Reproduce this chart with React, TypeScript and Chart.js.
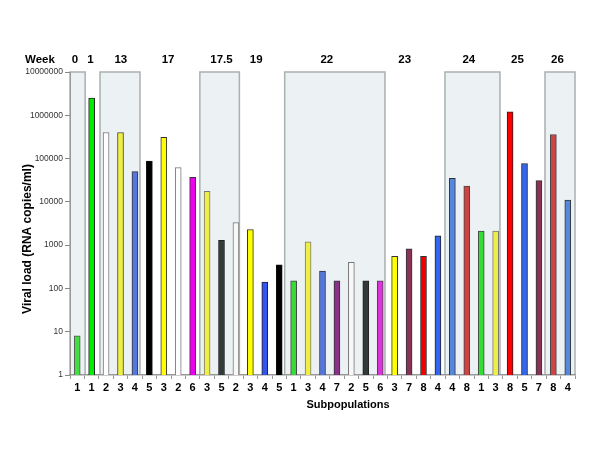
import React, { useEffect, useRef } from "react";
import { Chart, registerables } from "chart.js";

Chart.register(...registerables);

const subpopulations = ["1","1","2","3","4","5","3","2","6","3","5","2","3","4","5","1","3","4","7","2","5","6","3","7","8","4","4","8","1","3","8","5","7","8","4"];
const viralLoad = [8, 2500000, 400000, 400000, 50000, 87000, 310000, 62000, 37000, 17500, 1300, 3300, 2300, 140, 350, 150, 1200, 250, 150, 400, 150, 150, 550, 820, 550, 1650, 35000, 23000, 2100, 2100, 1200000, 77000, 31000, 360000, 11000];
const barColors = ["#44dd44","#00ee00","#ffffff","#eeee44","#5577dd","#000000","#ffff00","#ffffff","#ee00ee","#eeee44","#333a3a","#f8f8f8","#ffff00","#3355ee","#000000","#33dd33","#eeee44","#5577dd","#883388","#f8f8f8","#333838","#dd33dd","#ffff00","#883355","#ee0000","#3366ee","#5588dd","#cc4444","#33dd33","#eeee44","#ff0000","#3366ee","#883355","#cc4444","#5588dd"];
const borderColors = ["#555","#222","#777","#444","#333","#111","#333","#777","#333","#777","#222","#777","#333","#222","#111","#444","#777","#333","#333","#777","#222","#444","#333","#333","#333","#222","#333","#444","#444","#777","#222","#222","#333","#444","#333"];

const weekLabels = ["Week", "0", "1", "13", "17", "17.5", "19", "22", "23", "24", "25", "26"];
const weekLabelPos = [-2.58, -0.15, 0.92, 3.02, 6.3, 10.0, 12.4, 17.3, 22.7, 27.14, 30.51, 33.28];
// shaded week groups (category index units)
const shadeStart = [-0.5, 1.58, 8.5, 14.38, 25.49, 32.42];
const shadeEnd = [0.55, 4.35, 11.24, 21.33, 29.3, 34.5];

const yTicks = [1, 10, 100, 1000, 10000, 100000, 1000000, 10000000];

const FONT = "'Liberation Sans', Arial, sans-serif";

export default function App() {
  const ref = useRef<HTMLCanvasElement | null>(null);
  useEffect(() => {
    if (!ref.current) return;
    const idxToPx = (chart: any, v: number) => {
      const xs = chart.scales.x;
      const p0 = xs.getPixelForValue(0);
      const p1 = xs.getPixelForValue(1);
      return p0 + v * (p1 - p0);
    };
    const decor = {
      id: "decor",
      beforeDraw(chart: any) {
        const ctx = chart.ctx;
        const { top, bottom } = chart.chartArea;
        ctx.save();
        for (let i = 0; i < shadeStart.length; i++) {
          const l = idxToPx(chart, shadeStart[i]);
          const r = idxToPx(chart, shadeEnd[i]);
          ctx.fillStyle = "#ecf2f4";
          ctx.fillRect(l, top, r - l, bottom - top);
          ctx.strokeStyle = "#aab0b0";
          ctx.lineWidth = 1.5;
          ctx.beginPath();
          ctx.moveTo(l, bottom);
          ctx.lineTo(l, top);
          ctx.lineTo(r, top);
          ctx.lineTo(r, bottom);
          ctx.stroke();
        }
        ctx.restore();
      },
      afterDraw(chart: any) {
        const ctx = chart.ctx;
        ctx.save();
        ctx.fillStyle = "#000";
        ctx.textAlign = "center";
        ctx.textBaseline = "middle";
        ctx.font = `bold 11.5px ${FONT}`;
        for (let i = 0; i < weekLabels.length; i++) {
          ctx.fillText(weekLabels[i], idxToPx(chart, weekLabelPos[i]), 60);
        }
        ctx.font = `bold 11px ${FONT}`;
        ctx.fillText("Subpopulations", 348, 405);
        ctx.translate(28, 239);
        ctx.rotate(-Math.PI / 2);
        ctx.font = `bold 12px ${FONT}`;
        ctx.fillText("Viral load (RNA copies/ml)", 0, 0);
        ctx.restore();
      },
    };
    const chart = new Chart(ref.current, {
      type: "bar",
      data: {
        labels: subpopulations,
        datasets: [
          {
            data: viralLoad,
            backgroundColor: barColors,
            borderColor: borderColors,
            borderWidth: 1,
            barThickness: 6,
          },
        ],
      },
      options: {
        responsive: false,
        animation: false,
        layout: { padding: { top: 72, right: 25, left: 0, bottom: 0 } },
        plugins: { legend: { display: false }, tooltip: { enabled: false } },
        scales: {
          x: {
            type: "category",
            afterFit: (s: any) => { s.height = 75; },
            grid: { offset: true, drawOnChartArea: false, drawTicks: true, tickLength: 4, color: "#999" },
            border: { color: "#999", width: 1.5 },
            ticks: { color: "#000", font: { family: FONT, size: 11, weight: "bold" }, padding: 2, autoSkip: false, maxRotation: 0 },
          },
          y: {
            type: "logarithmic",
            min: 1,
            max: 10000000,
            afterFit: (s: any) => { s.width = 70; },
            afterBuildTicks: (s: any) => { s.ticks = yTicks.map((v) => ({ value: v })); },
            grid: { drawOnChartArea: false, drawTicks: true, tickLength: 5, color: "#888" },
            border: { color: "#999", width: 1 },
            ticks: {
              color: "#333",
              font: { family: FONT, size: 8.5 },
              padding: 2,
              callback: (v: any) => String(v),
            },
          },
        },
      },
      plugins: [decor],
    });
    return () => chart.destroy();
  }, []);
  return (
    <div style={{ position: "fixed", left: 0, top: 0, width: 600, height: 450, background: "#fff" }}>
      <canvas ref={ref} width={600} height={450} style={{ display: "block" }} />
    </div>
  );
}
